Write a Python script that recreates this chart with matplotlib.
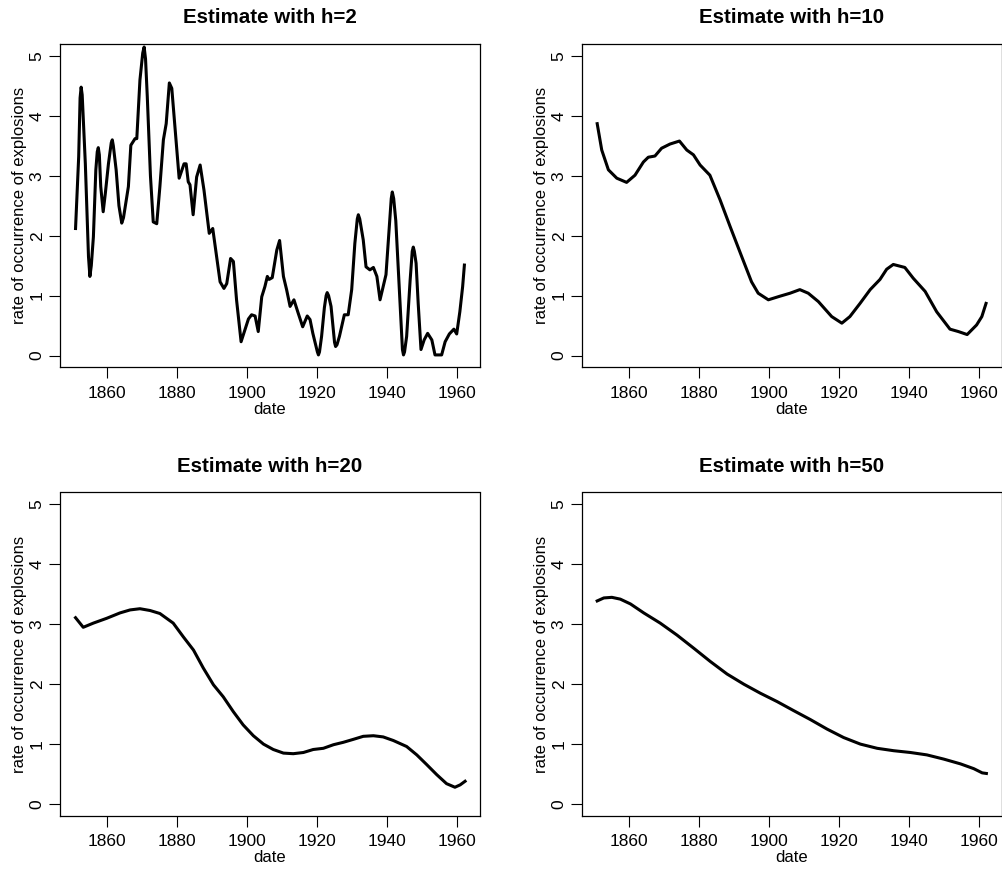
import matplotlib as mpl
mpl.use("Agg")
import matplotlib.pyplot as plt

# kernel estimates of explosion rate
years_h2 = [1851.1, 1852.0, 1852.4, 1852.7, 1853.0, 1853.2, 1853.9, 1854.8, 1855.2, 1855.6,
            1856.2, 1856.9, 1857.3, 1857.6, 1857.9, 1858.3, 1859.0, 1859.6, 1860.5, 1861.3,
            1861.6, 1861.9, 1862.7, 1863.5, 1864.3, 1864.8, 1866.2, 1866.9, 1868.1, 1868.6,
            1869.5, 1870.3, 1870.7, 1871.1, 1871.6, 1872.5, 1873.3, 1874.3, 1875.2, 1876.2,
            1877.0, 1877.9, 1878.6, 1879.5, 1880.7, 1882.1, 1882.7, 1883.3, 1883.8, 1884.7,
            1885.7, 1886.7, 1887.8, 1889.3, 1890.3, 1891.4, 1892.4, 1893.5, 1894.3, 1895.4,
            1896.2, 1897.1, 1898.4, 1899.5, 1900.5, 1901.4, 1902.4, 1903.3, 1904.3, 1905.2,
            1905.9, 1906.4, 1907.3, 1908.6, 1909.4, 1910.5, 1911.4, 1912.4, 1913.5, 1914.7,
            1916.0, 1917.3, 1918.1, 1918.9, 1919.7, 1920.2, 1920.5, 1920.8, 1921.4, 1922.2,
            1922.7, 1923.0, 1923.4, 1924.1, 1925.1, 1925.4, 1925.8, 1926.5, 1927.9, 1929.0,
            1930.0, 1930.9, 1931.6, 1931.9, 1932.3, 1933.3, 1934.1, 1935.2, 1936.2, 1937.2,
            1938.1, 1939.0, 1939.8, 1940.8, 1941.3, 1941.6, 1942.0, 1942.6, 1943.8, 1944.5,
            1944.8, 1945.1, 1945.7, 1946.7, 1947.3, 1947.6, 1947.9, 1948.4, 1949.0, 1949.8,
            1950.7, 1951.7, 1952.9, 1953.8, 1955.7, 1956.7, 1957.9, 1959.2, 1960.0, 1960.9,
            1961.7, 1962.2]
rate_h2 = [2.12, 3.32, 4.30, 4.48, 4.35, 4.10, 3.20, 1.65, 1.32, 1.50,
           1.98, 3.10, 3.40, 3.47, 3.35, 2.82, 2.40, 2.70, 3.20, 3.55,
           3.60, 3.50, 3.10, 2.50, 2.21, 2.30, 2.82, 3.51, 3.62, 3.62,
           4.60, 5.05, 5.15, 4.95, 4.32, 3.00, 2.23, 2.20, 2.82, 3.60,
           3.87, 4.55, 4.46, 3.82, 2.96, 3.20, 3.20, 2.90, 2.85, 2.35,
           2.98, 3.18, 2.76, 2.04, 2.12, 1.65, 1.23, 1.12, 1.20, 1.62,
           1.57, 0.93, 0.23, 0.43, 0.61, 0.68, 0.66, 0.40, 0.98, 1.15,
           1.32, 1.27, 1.30, 1.76, 1.92, 1.32, 1.10, 0.82, 0.93, 0.71,
           0.48, 0.66, 0.60, 0.37, 0.18, 0.06, 0.01, 0.06, 0.32, 0.80,
           1.00, 1.05, 1.00, 0.82, 0.22, 0.15, 0.18, 0.32, 0.68, 0.68,
           1.10, 1.87, 2.28, 2.35, 2.28, 1.93, 1.48, 1.43, 1.47, 1.32,
           0.93, 1.15, 1.35, 2.20, 2.62, 2.73, 2.62, 2.25, 0.87, 0.10,
           0.01, 0.06, 0.32, 1.26, 1.74, 1.81, 1.74, 1.54, 0.87, 0.10,
           0.26, 0.37, 0.26, 0.01, 0.01, 0.23, 0.36, 0.44, 0.36, 0.73,
           1.15, 1.51]

years_h10 = [1851.0, 1852.3, 1854.2, 1856.6, 1859.4, 1861.8, 1864.2, 1865.6, 1867.5, 1869.4,
             1871.8, 1874.5, 1876.6, 1878.5, 1880.4, 1883.2, 1886.1, 1889.0, 1892.3, 1895.1,
             1897.0, 1899.9, 1903.2, 1906.1, 1908.9, 1911.3, 1914.2, 1918.0, 1920.9, 1923.2,
             1926.1, 1929.0, 1931.8, 1933.7, 1935.6, 1938.9, 1941.3, 1944.7, 1948.0, 1951.8,
             1954.2, 1956.7, 1959.4, 1960.9, 1962.1]
rate_h10 = [3.87, 3.43, 3.10, 2.96, 2.89, 3.01, 3.23, 3.31, 3.33, 3.46,
            3.53, 3.58, 3.43, 3.35, 3.18, 3.01, 2.60, 2.15, 1.65, 1.23,
            1.04, 0.93, 0.99, 1.04, 1.10, 1.04, 0.90, 0.65, 0.54, 0.65,
            0.87, 1.10, 1.27, 1.44, 1.52, 1.47, 1.29, 1.07, 0.73, 0.44,
            0.40, 0.35, 0.51, 0.65, 0.87]

years_h20 = [1851.1, 1853.3, 1856.2, 1860.0, 1863.8, 1866.7, 1869.5, 1872.4, 1875.2, 1879.0,
             1881.9, 1884.8, 1887.6, 1890.5, 1893.3, 1896.2, 1899.0, 1901.9, 1904.8, 1907.6,
             1910.5, 1913.3, 1916.2, 1919.0, 1921.9, 1924.8, 1927.6, 1930.5, 1933.3, 1936.2,
             1939.0, 1941.9, 1945.7, 1948.6, 1951.4, 1954.3, 1957.1, 1959.5, 1961.0, 1962.4]
rate_h20 = [3.11, 2.95, 3.02, 3.10, 3.19, 3.24, 3.26, 3.23, 3.18, 3.02,
            2.79, 2.57, 2.27, 1.99, 1.79, 1.54, 1.32, 1.14, 1.00, 0.91,
            0.85, 0.84, 0.86, 0.91, 0.93, 0.99, 1.03, 1.08, 1.13, 1.14,
            1.12, 1.06, 0.96, 0.82, 0.66, 0.49, 0.34, 0.28, 0.32, 0.38]

years_h50 = [1851.0, 1852.9, 1855.2, 1857.6, 1860.5, 1864.3, 1869.0, 1873.8, 1878.6, 1883.3,
             1888.1, 1892.9, 1897.6, 1902.4, 1907.1, 1911.9, 1916.7, 1921.4, 1926.2, 1931.0,
             1935.7, 1940.5, 1945.2, 1950.0, 1954.8, 1958.6, 1961.0, 1962.2]
rate_h50 = [3.39, 3.44, 3.45, 3.42, 3.34, 3.19, 3.02, 2.82, 2.60, 2.38,
            2.17, 2.00, 1.85, 1.71, 1.56, 1.41, 1.25, 1.11, 1.00, 0.93,
            0.89, 0.86, 0.82, 0.75, 0.67, 0.59, 0.52, 0.51]

panels = [
    ("Estimate with h=2", years_h2, rate_h2),
    ("Estimate with h=10", years_h10, rate_h10),
    ("Estimate with h=20", years_h20, rate_h20),
    ("Estimate with h=50", years_h50, rate_h50),
]
x_ticks = [1860, 1880, 1900, 1920, 1940, 1960]
y_ticks = [0, 1, 2, 3, 4, 5]

plt.rcParams["font.family"] = ["Liberation Sans", "DejaVu Sans"]

W, H = 1003, 872
fig = plt.figure(figsize=(W / 100, H / 100), dpi=100)

# box positions in pixels: left, top, right, bottom
boxes = [
    (60, 44, 480, 367.5),
    (582, 44, 1002, 367.5),
    (60, 492.5, 480, 816),
    (582, 492.5, 1002, 816),
]

for (title, xs, ys), (l, t, r, b) in zip(panels, boxes):
    ax = fig.add_axes([l / W, 1 - b / H, (r - l) / W, (b - t) / H])
    ax.plot(xs, ys, color="black", lw=2.2, solid_joinstyle="round")
    ax.set_xlim(1846.66, 1966.66)
    ax.set_ylim(-0.2, 5.2)
    ax.set_xticks(x_ticks)
    ax.set_yticks(y_ticks)
    ax.tick_params(direction="out", length=8, width=0.8, labelsize=12.5, pad=3)
    ax.tick_params(axis="x", pad=5)
    ax.tick_params(axis="y", labelrotation=90)
    for lab in ax.get_yticklabels():
        lab.set_va("center")
    for sp in ax.spines.values():
        sp.set_linewidth(0.9)
    ax.set_xlabel("date", fontsize=12, labelpad=1)
    ax.set_ylabel("rate of occurrence of explosions", fontsize=12, labelpad=2)
    ax.set_title(title, fontsize=14.8, fontweight="bold", pad=15)

fig.savefig("out.png", dpi=100)
